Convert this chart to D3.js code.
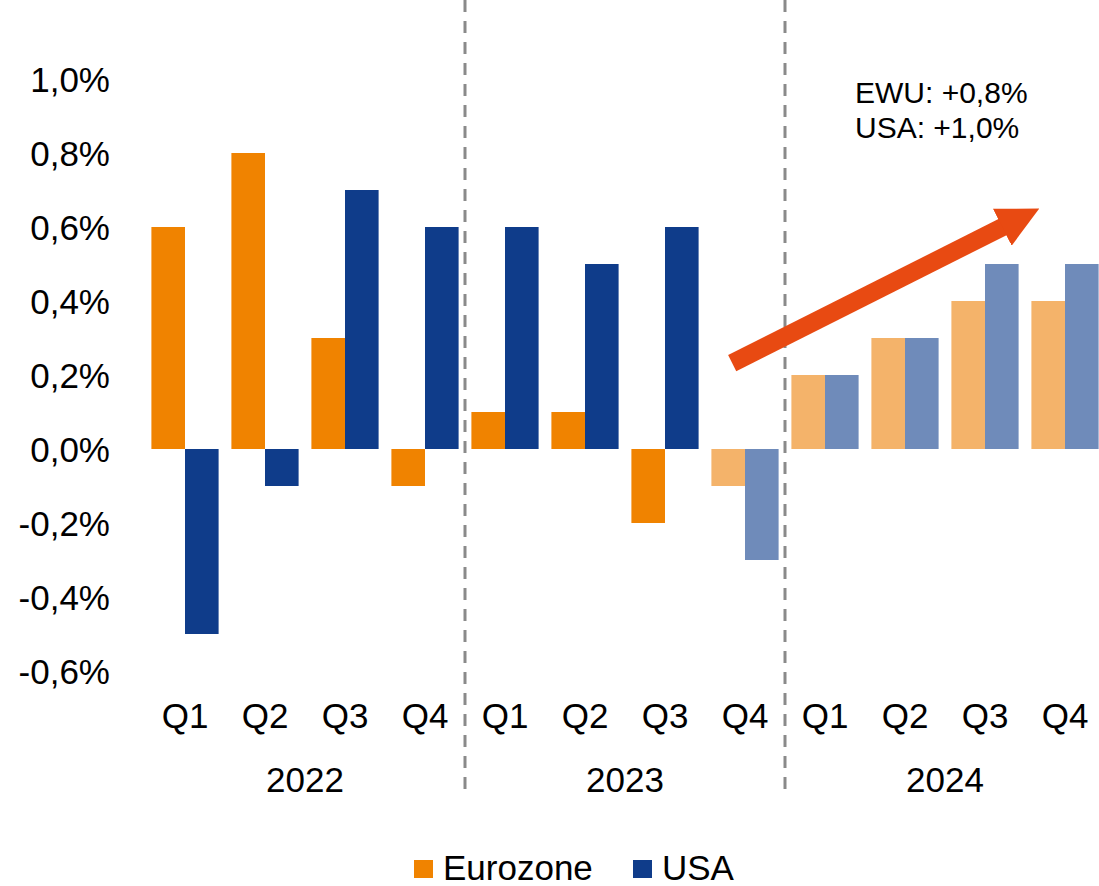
<!DOCTYPE html>
<html>
<head>
<meta charset="utf-8">
<script src="https://cdn.jsdelivr.net/npm/d3@7"></script>
<style>
  html, body { margin: 0; padding: 0; background: #fff; }
  svg { display: block; font-family: "Liberation Sans", Arial, sans-serif; }
  .tick-label { font-size: 35px; fill: #000; }
  .legend-label { font-size: 35px; fill: #000; }
  .note { font-size: 30px; fill: #000; }
</style>
</head>
<body>
<div id="chart"></div>
<script>
  // ---------- DATA ----------
  const years = ["2022", "2023", "2024"];
  const quarters = ["Q1", "Q2", "Q3", "Q4"];
  const eurozone = [0.6, 0.8, 0.3, -0.1, 0.1, 0.1, -0.2, -0.1, 0.2, 0.3, 0.4, 0.4];
  const usa = [-0.5, -0.1, 0.7, 0.6, 0.6, 0.5, 0.6, -0.3, 0.2, 0.3, 0.5, 0.5];
  const forecastFrom = 7; // index of first estimated / forecast quarter
  const yTicks = [-0.6, -0.4, -0.2, 0, 0.2, 0.4, 0.6, 0.8, 1.0];
  const noteLines = ["EWU: +0,8%", "USA: +1,0%"];
  // trend arrow in data units: [slot position, value]
  const arrowFrom = [7.34, 0.232];
  const arrowTo = [11.19, 0.651];

  const colors = {
    ez: "#f08300", ezLight: "#f4b36a",
    us: "#0f3c8a", usLight: "#6f8bba",
    arrow: "#e84a12", grid: "#8a8a8a"
  };

  const W = 1099, H = 886;
  const margin = { left: 145, right: -6 };

  const categories = [];
  years.forEach((y) => quarters.forEach((q) => categories.push(y + " " + q)));

  const svg = d3.select("#chart").append("svg")
    .attr("width", W).attr("height", H);

  const x = d3.scaleBand()
    .domain(categories)
    .range([margin.left, W - margin.right])
    .paddingInner(0.16)
    .paddingOuter(0.08);

  // continuous slot position (0 = left edge of first slot)
  const xs = d3.scaleLinear()
    .domain([0, categories.length])
    .range([margin.left, W - margin.right]);

  const y = d3.scaleLinear()
    .domain([-0.6, 1.0])
    .range([671, 79]);

  const half = x.bandwidth() / 2;
  const fmt = (v) => d3.format(".1f")(v).replace(".", ",").replace("−", "-") + "%";

  // ---------- SEPARATORS ----------
  [4, 8].forEach((i) => {
    svg.append("line")
      .attr("x1", xs(i)).attr("x2", xs(i))
      .attr("y1", 0).attr("y2", 795)
      .attr("stroke", colors.grid)
      .attr("stroke-width", 3)
      .attr("stroke-dasharray", "12,9");
  });

  // ---------- BARS ----------
  const rows = categories.map((c, i) => ({ c, i, ez: eurozone[i], us: usa[i] }));

  svg.selectAll(".bar-ez")
    .data(rows)
    .join("rect")
    .attr("class", "bar-ez")
    .attr("x", (d) => x(d.c))
    .attr("width", half)
    .attr("y", (d) => y(Math.max(0, d.ez)))
    .attr("height", (d) => Math.abs(y(d.ez) - y(0)))
    .attr("fill", (d) => (d.i >= forecastFrom ? colors.ezLight : colors.ez));

  svg.selectAll(".bar-us")
    .data(rows)
    .join("rect")
    .attr("class", "bar-us")
    .attr("x", (d) => x(d.c) + half)
    .attr("width", half)
    .attr("y", (d) => y(Math.max(0, d.us)))
    .attr("height", (d) => Math.abs(y(d.us) - y(0)))
    .attr("fill", (d) => (d.i >= forecastFrom ? colors.usLight : colors.us));

  // ---------- AXES ----------
  const yAxis = svg.append("g")
    .attr("transform", "translate(110,0)")
    .call(d3.axisLeft(y).tickValues(yTicks).tickSize(0).tickPadding(0).tickFormat(fmt));
  yAxis.select(".domain").remove();
  yAxis.selectAll("text").attr("class", "tick-label").attr("font-size", null)
    .attr("font-family", null).attr("dy", "0.35em");

  const xAxis = svg.append("g")
    .attr("transform", "translate(0,716)")
    .call(d3.axisBottom(x).tickSize(0).tickPadding(0).tickFormat((d) => d.split(" ")[1]));
  xAxis.select(".domain").remove();
  xAxis.selectAll("text").attr("class", "tick-label").attr("font-size", null)
    .attr("font-family", null).attr("dy", "0.35em");

  svg.selectAll(".year-label")
    .data(years)
    .join("text")
    .attr("class", "tick-label year-label")
    .attr("x", (d, i) => xs(i * 4 + 2))
    .attr("y", 780)
    .attr("dy", "0.35em")
    .attr("text-anchor", "middle")
    .text((d) => d);

  // ---------- TREND ARROW ----------
  svg.append("defs").append("marker")
    .attr("id", "head")
    .attr("viewBox", "0 0 10 10")
    .attr("refX", 3).attr("refY", 5)
    .attr("markerWidth", 2.3).attr("markerHeight", 2.7)
    .attr("markerUnits", "strokeWidth")
    .attr("orient", "auto")
    .append("path")
    .attr("d", "M0,0 L10,5 L0,10 Z")
    .attr("fill", colors.arrow);

  const ax1 = xs(arrowFrom[0]), ay1 = y(arrowFrom[1]);
  const ax2 = xs(arrowTo[0]), ay2 = y(arrowTo[1]);
  const ang = Math.atan2(ay2 - ay1, ax2 - ax1);
  const headLen = 30;
  svg.append("line")
    .attr("x1", ax1).attr("y1", ay1)
    .attr("x2", ax2 - Math.cos(ang) * headLen).attr("y2", ay2 - Math.sin(ang) * headLen)
    .attr("stroke", colors.arrow)
    .attr("stroke-width", 18)
    .attr("marker-end", "url(#head)");

  // ---------- NOTE ----------
  svg.append("text")
    .attr("class", "note")
    .attr("x", 855).attr("y", 103)
    .selectAll("tspan")
    .data(noteLines)
    .join("tspan")
    .attr("x", 855)
    .attr("dy", (d, i) => (i === 0 ? 0 : 35))
    .text((d) => d);

  // ---------- LEGEND ----------
  const legendItems = [
    { label: "Eurozone", color: colors.ez, x: 414 },
    { label: "USA", color: colors.us, x: 633 }
  ];
  const legend = svg.selectAll(".legend-item")
    .data(legendItems)
    .join("g")
    .attr("class", "legend-item")
    .attr("transform", (d) => `translate(${d.x},860)`);
  legend.append("rect")
    .attr("width", 19).attr("height", 18)
    .attr("fill", (d) => d.color);
  legend.append("text")
    .attr("class", "legend-label")
    .attr("x", 29).attr("y", 8)
    .attr("dy", "0.35em")
    .text((d) => d.label);
</script>
</body>
</html>
